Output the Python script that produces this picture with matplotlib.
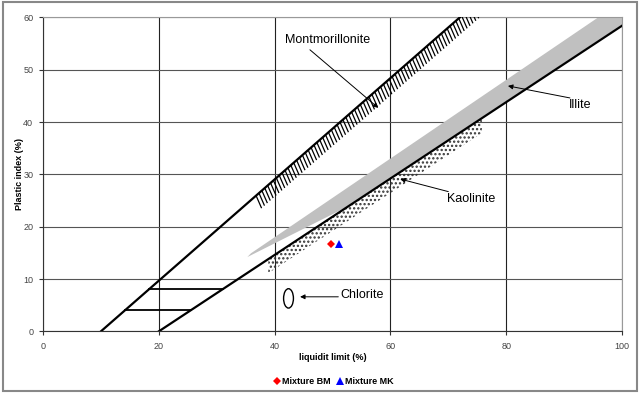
import matplotlib
matplotlib.use('Agg')
import matplotlib.pyplot as plt
from matplotlib.patches import Polygon, Ellipse, Rectangle
from matplotlib.collections import LineCollection
import numpy as np

plt.rcParams['font.family'] = ['Liberation Sans', 'DejaVu Sans']

# Casagrande plasticity chart lines (liquid limit, plastic index)
a_line_ll = [20, 100]
a_line_pi = [0, 58.4]
u_line_ll = [10, 72]
u_line_pi = [0, 60]
bar8_ll = [18.3, 31.0]
bar8_pi = [8, 8]
bar4_ll = [14.2, 25.5]
bar4_pi = [4, 4]

# mineral zones
illite_ll = [35.3, 35.9, 95.9, 100, 100, 52.0]
illite_pi = [14.2, 14.9, 60, 60, 58.6, 23.5]
kaol_ll = [38.9, 38.9, 75.8, 75.8]
kaol_pi = [11.1, 13.8, 40.7, 37.9]
mont_start, mont_end = 36.8, 78.0

chlorite_ll, chlorite_pi = 42.4, 6.3

# samples
mix_names = ['Mixture BM', 'Mixture MK']
mix_ll = [49.7, 51.2]
mix_pi = [16.6, 16.6]
mix_colors = ['#ff0000', '#0000ff']
mix_markers = ['D', '^']

fig = plt.figure(figsize=(6.4, 3.94), dpi=100)
ax = fig.add_axes([0.0672, 0.159, 0.9047, 0.797])

ax.set_xlim(0, 100)
ax.set_ylim(0, 60)
ax.set_xticks(range(0, 101, 20))
ax.set_yticks(range(0, 61, 10))
ax.grid(True, axis='x', color='#222222', lw=0.8)
ax.grid(True, axis='y', color='#555555', lw=0.8)
ax.set_axisbelow(True)
for s in ['top', 'right']:
    ax.spines[s].set_color('#999999')
for s in ['left', 'bottom']:
    ax.spines[s].set_color('#333333')
ax.tick_params(labelsize=6.5, labelcolor='#444444', length=3, width=0.8,
               color='#333333')
ax.tick_params(axis='x', pad=5)
ax.tick_params(axis='y', pad=4)

# illite band
ax.add_patch(Polygon(list(zip(illite_ll, illite_pi)), closed=True,
                     facecolor='#c0c0c0', edgecolor='none', zorder=2))
# kaolinite stipple
plt.rcParams['hatch.linewidth'] = 1.1
ax.add_patch(Polygon(list(zip(kaol_ll, kaol_pi)), closed=True, fill=False,
                     hatch='....', edgecolor='#333333', lw=0, zorder=2))

# montmorillonite hatch strokes below the U-line
slope = (u_line_pi[1] - u_line_pi[0]) / (u_line_ll[1] - u_line_ll[0])
segs = []
for x0 in np.arange(mont_start, mont_end, 0.5):
    y0 = u_line_pi[0] + slope * (x0 - u_line_ll[0])
    segs.append([(x0, y0), (x0 + 0.95, y0 - 2.4)])
ax.add_collection(LineCollection(segs, colors='black', linewidths=0.9, zorder=3))

ax.plot(a_line_ll, a_line_pi, color='black', lw=1.6, zorder=4)
ax.plot(u_line_ll, u_line_pi, color='black', lw=1.6, zorder=4)
ax.plot(bar8_ll, bar8_pi, color='black', lw=1.3, zorder=4)
ax.plot(bar4_ll, bar4_pi, color='black', lw=1.3, zorder=4)

ax.add_patch(Ellipse((chlorite_ll, chlorite_pi), 1.7, 3.7, fill=False,
                     edgecolor='black', lw=1.0, zorder=4))

for name, x, y, c, m in zip(mix_names, mix_ll, mix_pi, mix_colors, mix_markers):
    ax.plot(x, y, marker=m, color=c, ms=4.5 if m == 'D' else 6, ls='none',
            label=name, zorder=5, markeredgewidth=0)

arrow = dict(arrowstyle='-|>', color='black', lw=0.7, mutation_scale=7,
             shrinkA=0, shrinkB=0)
ax.annotate('', xy=(57.9, 42.7), xytext=(46.1, 53.8), arrowprops=arrow, zorder=6)
ax.text(49.2, 55.6, 'Montmorillonite', fontsize=9, ha='center', va='center')
ax.annotate('', xy=(80.3, 46.9), xytext=(91.0, 44.6), arrowprops=arrow, zorder=6)
ax.text(92.8, 43.2, 'Illite', fontsize=9, ha='center', va='center')
ax.annotate('', xy=(61.7, 29.1), xytext=(70.0, 26.7), arrowprops=arrow, zorder=6)
ax.text(74.0, 25.3, 'Kaolinite', fontsize=9, ha='center', va='center')
ax.annotate('', xy=(44.4, 6.6), xytext=(51.0, 6.6), arrowprops=arrow, zorder=6)
ax.text(51.3, 7.0, 'Chlorite', fontsize=9, ha='left', va='center')

ax.set_xlabel('liquidit limit (%)', fontsize=6.5, fontweight='bold', va='center')
ax.set_ylabel('Plastic index (%)', fontsize=6.5, fontweight='bold', va='center')
ax.xaxis.set_label_coords(0.5, -0.082)
ax.yaxis.set_label_coords(-0.040, 0.5)

h, l = ax.get_legend_handles_labels()
leg = fig.legend(h, l, loc='center', bbox_to_anchor=(0.52, 0.032), ncol=2,
                 frameon=False, handletextpad=0.0, columnspacing=0.4,
                 handlelength=1.2, prop={'size': 6.5, 'weight': 'bold'})

fig.patches.append(Rectangle((0.005, 0.007), 0.99, 0.987, transform=fig.transFigure,
                             fill=False, edgecolor='#888888', lw=1.5))

fig.savefig('out.png', dpi=100)
plt.close()
